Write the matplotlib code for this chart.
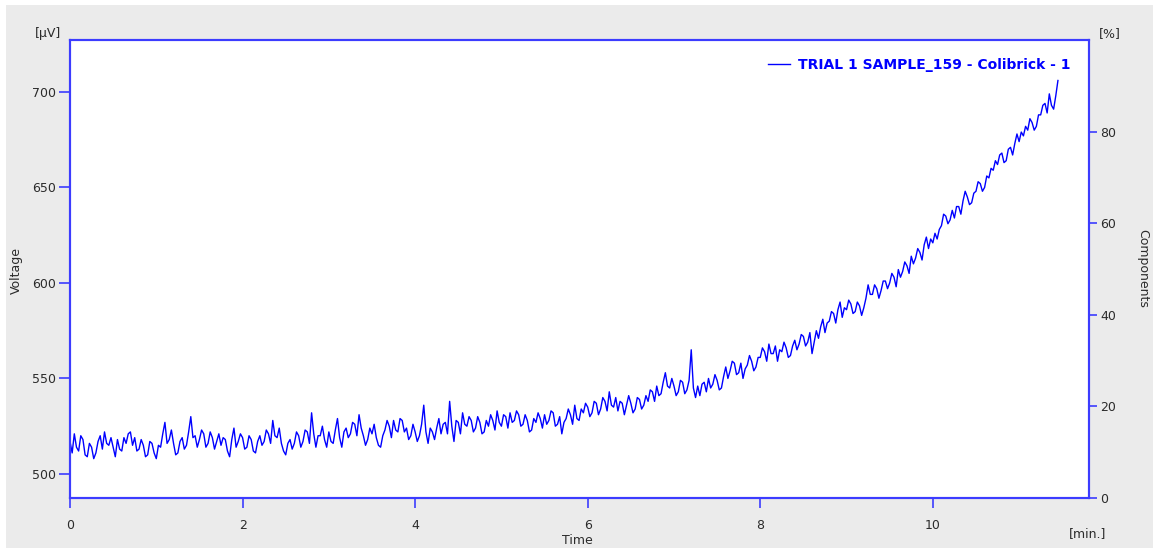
import numpy as np
import matplotlib
matplotlib.use("Agg")
import matplotlib.pyplot as plt
from matplotlib.patches import Rectangle

# time step of the sampled trace [min.]
step = 0.025

# voltage, one row per half minute [uV]
voltage = [
    517, 511, 521, 514, 512, 520, 518, 510, 509, 516, 514, 508, 511, 517, 520, 513, 522, 516, 515, 519,
    514, 509, 518, 513, 512, 519, 516, 521, 522, 515, 519, 512, 513, 518, 515, 509, 510, 517, 516, 511,
    508, 515, 514, 521, 527, 516, 518, 523, 516, 510, 511, 517, 519, 513, 515, 522, 530, 519, 520, 514,
    518, 523, 521, 514, 516, 522, 519, 513, 517, 521, 515, 519, 518, 512, 509, 518, 524, 514, 517, 521,
    519, 513, 514, 520, 518, 512, 511, 517, 520, 515, 517, 523, 521, 516, 528, 520, 519, 524, 516, 512,
    510, 516, 518, 513, 516, 522, 520, 514, 517, 523, 522, 516, 532, 521, 514, 520, 520, 525, 518, 514,
    522, 517, 516, 523, 529, 519, 514, 522, 524, 519, 521, 527, 526, 520, 531, 524, 520, 515, 518, 524,
    521, 526, 519, 515, 514, 520, 523, 528, 525, 519, 528, 523, 522, 529, 528, 522, 524, 518, 520, 526,
    522, 517, 520, 526, 536, 522, 516, 524, 522, 518, 524, 529, 521, 526, 527, 521, 538, 525, 517, 528,
    527, 521, 532, 526, 525, 530, 528, 522, 524, 530, 527, 521, 522, 528, 525, 531, 528, 523, 533, 527,
    525, 531, 530, 524, 532, 527, 528, 533, 531, 525, 526, 531, 528, 522, 523, 529, 527, 532, 529, 524,
    531, 526, 528, 533, 532, 525, 526, 530, 521, 527, 529, 534, 531, 526, 536, 529, 528, 534, 532, 537,
    535, 530, 532, 538, 537, 531, 534, 540, 538, 533, 543, 536, 535, 540, 533, 538, 537, 531, 536, 541,
    537, 532, 534, 540, 539, 534, 536, 541, 538, 544, 543, 538, 546, 541, 542, 548, 553, 546, 545, 550,
    546, 541, 543, 549, 548, 542, 544, 549, 565, 545, 540, 546, 541, 547, 548, 543, 550, 545, 547, 552,
    549, 544, 545, 551, 556, 550, 554, 559, 558, 552, 553, 558, 550, 555, 557, 562, 559, 554, 556, 561,
    561, 566, 564, 559, 568, 563, 563, 567, 559, 565, 564, 569, 566, 561, 562, 567, 570, 565, 568, 573,
    572, 567, 569, 574, 563, 569, 575, 571, 577, 581, 574, 579, 580, 585, 584, 579, 586, 590, 582, 587,
    586, 591, 589, 584, 585, 590, 588, 583, 587, 592, 599, 594, 594, 599, 597, 592, 596, 601, 601, 597,
    600, 605, 603, 598, 607, 603, 606, 611, 609, 605, 614, 610, 613, 618, 616, 612, 620, 624, 618, 623,
    621, 626, 623, 628, 630, 636, 635, 631, 633, 638, 634, 640, 640, 636, 643, 648, 645, 641, 642, 647,
    648, 653, 652, 648, 650, 656, 655, 660, 659, 664, 662, 667, 668, 663, 664, 670, 671, 667, 673, 678,
    674, 679, 677, 682, 680, 686, 684, 680, 682, 688, 688, 693, 694, 689, 699, 693, 691, 698, 706,
]
time = np.arange(len(voltage)) * step

x_ticks = [0, 2, 4, 6, 8, 10]
left_ticks = [500, 550, 600, 650, 700]
right_ticks = [0, 20, 40, 60, 80]
series_name = "TRIAL 1 SAMPLE_159 - Colibrick - 1"

blue = "#0000ff"
frame = "#3c3cff"
txt = "#2b2b2b"

fig = plt.figure(figsize=(11.53, 5.48), dpi=100)
fig.patch.set_facecolor("white")
fig.patches.append(Rectangle((6 / 1153, 0), 1, 543 / 548, transform=fig.transFigure,
                             facecolor="#ebebeb", edgecolor="none", zorder=-10))

ax = fig.add_axes([70 / 1153, 50 / 548, 1019 / 1153, 458 / 548])
ax.set_facecolor("white")
ax.plot(time, voltage, color=blue, lw=1.0)

ax.set_xlim(0, 11.81)
ax.set_ylim(487.4, 727.2)
ax.set_xticks(x_ticks)
ax.set_yticks(left_ticks)

ax2 = ax.twinx()
ax2.set_ylim(0, 100.1)
ax2.set_yticks(right_ticks)

for a in (ax, ax2):
    for s in a.spines.values():
        s.set_color(frame)
        s.set_linewidth(1.5)
    a.tick_params(colors=frame, labelcolor=txt, labelsize=9, width=1.2)
ax.tick_params(axis="y", length=8, pad=2)
ax.tick_params(axis="x", length=7, pad=8)
ax2.tick_params(axis="y", length=6, pad=2)

# unit labels placed like the instrument software does
fig.text(48 / 1153, 1 - 34 / 548, "[μV]", ha="center", va="center", fontsize=9, color=txt)
fig.text(1110 / 1153, 1 - 34 / 548, "[%]", ha="center", va="center", fontsize=9, color=txt)
fig.text(1088 / 1153, 1 - 534 / 548, "[min.]", ha="center", va="center", fontsize=9, color=txt)
fig.text(577 / 1153, 1 - 541 / 548, "Time", ha="center", va="center", fontsize=9, color=txt)
fig.text(16 / 1153, 1 - 270 / 548, "Voltage", ha="center", va="center", fontsize=9,
         color=txt, rotation=90)
fig.text(1143 / 1153, 1 - 268 / 548, "Components", ha="center", va="center", fontsize=9,
         color=txt, rotation=270)

# legend
leg = ax.legend([ax.lines[0]], [series_name], loc="upper right", frameon=False,
                handlelength=1.6, handletextpad=0.6, borderaxespad=0.9,
                prop={"weight": "bold", "size": 10})
for t in leg.get_texts():
    t.set_color(blue)

fig.savefig("out.png", dpi=100)
